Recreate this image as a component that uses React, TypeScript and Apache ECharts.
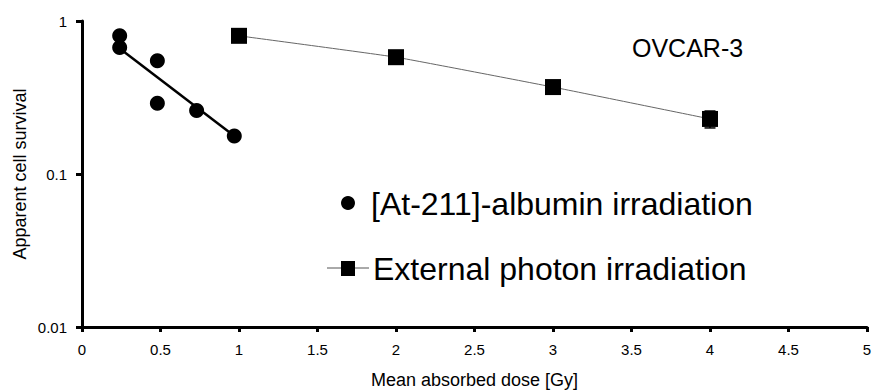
import React, { useEffect, useRef } from "react";
import * as echarts from "echarts";

const alphaDose = [0.24, 0.24, 0.48, 0.48, 0.73, 0.97];
const alphaSurvival = [0.8, 0.67, 0.55, 0.29, 0.26, 0.177];
const alphaFitDose = [0.24, 0.97];
const alphaFitSurvival = [0.66, 0.177];
const photonDose = [1, 2, 3, 4];
const photonSurvival = [0.8, 0.58, 0.37, 0.229];
const photonError = [0, 0, 0, 0.029];

const xTicks = { min: 0, max: 5, interval: 0.5 };
const yRange = { min: 0.01, max: 1 };

const FONT = "'Liberation Sans', Arial, Helvetica, sans-serif";

export default function App() {
  const ref = useRef<HTMLDivElement>(null);

  useEffect(() => {
    if (!ref.current) return;
    const chart = echarts.init(ref.current, undefined, { renderer: "svg" });

    const alphaData = alphaDose.map((d, i) => [d, alphaSurvival[i]]);
    const fitData = alphaFitDose.map((d, i) => [d, alphaFitSurvival[i]]);
    const photonData = photonDose.map((d, i) => [d, photonSurvival[i]]);
    const errData = photonDose.map((d, i) => [d, photonSurvival[i], photonError[i]]);

    chart.setOption({
      animation: false,
      backgroundColor: "#ffffff",
      textStyle: { fontFamily: FONT, color: "#000" },
      grid: {
        left: 82,
        right: 7,
        top: 21,
        bottom: 65,
        containLabel: false,
        outerBoundsMode: "none",
      },
      xAxis: {
        type: "value",
        min: xTicks.min,
        max: xTicks.max,
        interval: xTicks.interval,
        name: "Mean absorbed dose [Gy]",
        nameLocation: "middle",
        nameGap: 44,
        nameMoveOverlap: false,
        nameTextStyle: { fontSize: 18, color: "#000", fontFamily: FONT },
        axisLine: { show: true, onZero: false, lineStyle: { color: "#000", width: 3 } },
        axisTick: { show: true, inside: false, length: 5, lineStyle: { color: "#000", width: 3 } },
        axisLabel: { fontSize: 15, color: "#000", margin: 15, fontFamily: FONT },
        splitLine: { show: false },
      },
      yAxis: {
        type: "log",
        logBase: 10,
        min: yRange.min,
        max: yRange.max,
        name: "Apparent cell survival",
        nameLocation: "middle",
        nameGap: 53,
        nameMoveOverlap: false,
        nameTextStyle: { fontSize: 18, color: "#000", fontFamily: FONT },
        axisLine: { show: true, lineStyle: { color: "#000", width: 3 } },
        axisTick: { show: true, inside: false, length: 6, lineStyle: { color: "#000", width: 3 } },
        axisLabel: {
          fontSize: 15,
          color: "#000",
          margin: 15,
          fontFamily: FONT,
          formatter: (v: number) => String(Number(v.toPrecision(3))),
        },
        minorTick: { show: false },
        splitLine: { show: false },
      },
      series: [
        {
          name: "fit",
          type: "line",
          data: fitData,
          symbol: "none",
          lineStyle: { color: "#000", width: 2.5 },
          z: 2,
        },
        {
          name: "[At-211]-albumin irradiation",
          type: "scatter",
          data: alphaData,
          symbol: "circle",
          symbolSize: 15,
          itemStyle: { color: "#000", opacity: 1 },
          z: 3,
        },
        {
          name: "error",
          type: "custom",
          data: errData,
          z: 1,
          renderItem: (params: any, api: any) => {
            const x = api.value(0);
            const y = api.value(1);
            const e = api.value(2);
            if (!e) return null;
            const lo = api.coord([x, y - e]);
            const hi = api.coord([x, y + e]);
            const cap = 5.5;
            const style = { stroke: "#000", lineWidth: 1.5 };
            return {
              type: "group",
              children: [
                { type: "line", shape: { x1: lo[0], y1: lo[1], x2: hi[0], y2: hi[1] }, style },
                { type: "line", shape: { x1: lo[0] - cap, y1: lo[1], x2: lo[0] + cap, y2: lo[1] }, style },
                { type: "line", shape: { x1: hi[0] - cap, y1: hi[1], x2: hi[0] + cap, y2: hi[1] }, style },
              ],
            };
          },
        },
        {
          name: "External photon irradiation",
          type: "line",
          data: photonData,
          smooth: 0.1,
          symbol: "rect",
          symbolSize: 16,
          itemStyle: { color: "#000", opacity: 1 },
          lineStyle: { color: "#666", width: 1 },
          z: 3,
        },
      ],
      graphic: [
        {
          type: "text",
          x: 632,
          y: 48,
          style: {
            text: "OVCAR-3",
            fontSize: 25,
            fontFamily: FONT,
            fill: "#000",
            verticalAlign: "middle",
            align: "left",
          },
        },
        {
          type: "circle",
          shape: { cx: 348, cy: 203, r: 7 },
          style: { fill: "#000" },
        },
        {
          type: "text",
          x: 371,
          y: 204,
          style: {
            text: "[At-211]-albumin irradiation",
            fontSize: 32,
            fontFamily: FONT,
            fill: "#000",
            verticalAlign: "middle",
            align: "left",
          },
        },
        {
          type: "line",
          shape: { x1: 327, y1: 268, x2: 369, y2: 268 },
          style: { stroke: "#555", lineWidth: 1 },
        },
        {
          type: "rect",
          shape: { x: 341, y: 261, width: 14, height: 15 },
          style: { fill: "#000" },
        },
        {
          type: "text",
          x: 373,
          y: 269,
          style: {
            text: "External photon irradiation",
            fontSize: 32,
            fontFamily: FONT,
            fill: "#000",
            verticalAlign: "middle",
            align: "left",
          },
        },
      ],
    });

    return () => chart.dispose();
  }, []);

  return (
    <div
      ref={ref}
      style={{ position: "absolute", left: 0, top: 0, width: 874, height: 392, background: "#fff" }}
    />
  );
}
